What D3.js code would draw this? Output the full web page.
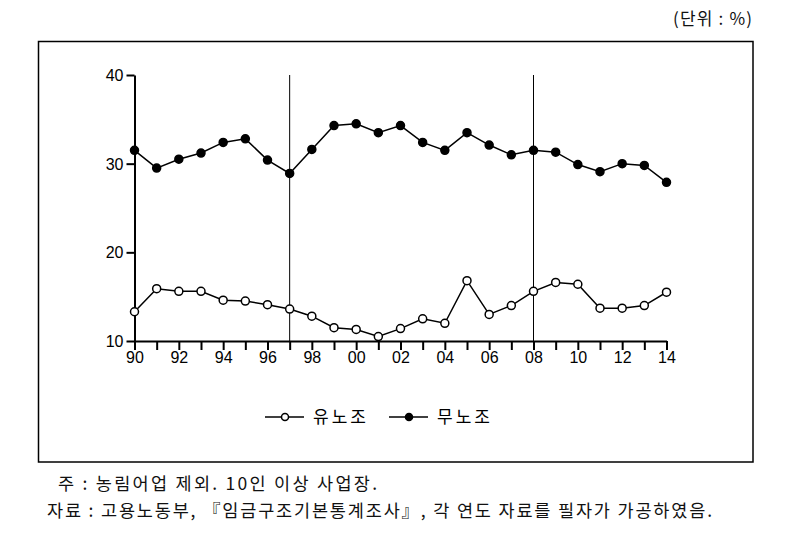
<!DOCTYPE html>
<html><head><meta charset="utf-8">
<script src="https://cdn.jsdelivr.net/npm/d3@7"></script>
<style>body{margin:0;background:#fff}svg{display:block}</style>
</head><body>
<script>
const years = d3.range(1990, 2015);
const union = [13.3,15.9,15.6,15.6,14.6,14.5,14.1,13.6,12.8,11.5,11.3,10.5,11.4,12.5,12.0,16.8,13.0,14.0,15.6,16.6,16.4,13.7,13.7,14.0,15.5];
const nonUnion = [31.5,29.5,30.5,31.2,32.4,32.8,30.4,28.9,31.6,34.3,34.5,33.5,34.3,32.4,31.5,33.5,32.1,31.0,31.5,31.3,29.9,29.1,30.0,29.8,27.9];
const seriesNames = ["유노조","무노조"];
const yTicks = [10,20,30,40];
const markerYears = [1997, 2008];
const unitLabel = "(단위 : %)";
const note1 = "주 : 농림어업 제외. 10인 이상 사업장.";
const note2 = "자료 : 고용노동부, 『임금구조기본통계조사』, 각 연도 자료를 필자가 가공하였음.";

const W=788,H=555;
const svg=d3.select("body").append("svg").attr("width",W).attr("height",H);
const x=d3.scaleLinear().domain([1990,2014]).range([134.5,666.5]);
const y=d3.scaleLinear().domain([10,40]).range([341,75]);
const numFont="'Liberation Sans', Arial, sans-serif";
const krFont="'Noto Sans CJK KR', sans-serif";

svg.append("text").attr("x",673).attr("y",25)
  .attr("font-family",krFont).attr("font-size",17).attr("fill","#111")
  .attr("textLength",79).attr("lengthAdjust","spacing").text(unitLabel);

svg.append("rect").attr("x",38.5).attr("y",41.5).attr("width",714.5).attr("height",420.5)
  .attr("fill","none").attr("stroke","#000").attr("stroke-width",1.5);

// vertical marker lines
svg.selectAll(".vline").data(markerYears).join("line")
  .attr("x1",d=>x(d)).attr("x2",d=>x(d)).attr("y1",y(40)).attr("y2",y(10))
  .attr("stroke","#000").attr("stroke-width",1);

// y axis
const ya=svg.append("g").attr("transform",`translate(${x(1990)},0)`)
  .call(d3.axisLeft(y).tickValues(yTicks).tickSize(8).tickSizeOuter(0).tickPadding(3));
ya.select(".domain").attr("stroke-width",2);
ya.selectAll(".tick line").attr("stroke-width",2);
ya.selectAll("text").attr("font-family",numFont).attr("font-size",16).attr("fill","#000").attr("dy","0.35em");

// x axis
const xa=svg.append("g").attr("transform",`translate(0,${y(10)})`)
  .call(d3.axisBottom(x).tickValues(years).tickSize(9).tickSizeOuter(0).tickPadding(2)
    .tickFormat(d=> d%2===0 ? String(d%100).padStart(2,"0") : ""));
xa.select(".domain").attr("stroke-width",2);
xa.selectAll(".tick line").attr("stroke-width",2);
xa.selectAll("text").attr("font-family",numFont).attr("font-size",16).attr("fill","#000");

const line=d3.line().x((d,i)=>x(years[i])).y(d=>y(d));
[[nonUnion,"#000"],[union,"#fff"]].forEach(([data,fill])=>{
  svg.append("path").attr("d",line(data)).attr("fill","none").attr("stroke","#000").attr("stroke-width",1.5);
  svg.selectAll(null).data(data).join("circle")
    .attr("cx",(d,i)=>x(years[i])).attr("cy",d=>y(d)).attr("r",4)
    .attr("fill",fill).attr("stroke","#000").attr("stroke-width",1.5);
});

// legend
const leg=[{name:seriesNames[0],fill:"#fff",x0:265},{name:seriesNames[1],fill:"#000",x0:389}];
leg.forEach(l=>{
  const g=svg.append("g");
  g.append("line").attr("x1",l.x0).attr("x2",l.x0+39).attr("y1",417).attr("y2",417).attr("stroke","#000").attr("stroke-width",1.5);
  g.append("circle").attr("cx",l.x0+20).attr("cy",417).attr("r",3.5).attr("fill",l.fill).attr("stroke","#000").attr("stroke-width",1.5);
  g.append("text").attr("x",l.x0+48).attr("y",423).attr("font-family",krFont).attr("font-size",17).attr("fill","#000")
    .attr("textLength",53).attr("lengthAdjust","spacing").text(l.name);
});

svg.append("text").attr("x",58).attr("y",490).attr("font-family",krFont).attr("font-size",17.5).attr("fill","#111")
  .attr("textLength",319).attr("lengthAdjust","spacing").text(note1);
svg.append("text").attr("x",47).attr("y",517).attr("font-family",krFont).attr("font-size",17.5).attr("fill","#111")
  .attr("textLength",665).attr("lengthAdjust","spacing").text(note2);
</script>
</body></html>
